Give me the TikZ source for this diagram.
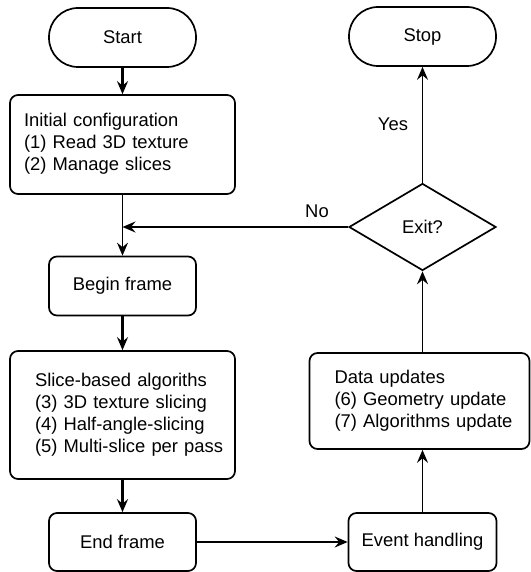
\documentclass[tikz,border=0pt]{standalone}
\usepackage{fontspec}
\setmainfont{Liberation Sans}
\usetikzlibrary{arrows.meta,shapes.geometric}
\newcommand{\padtext}[2]{\noindent\hspace*{#1}\begin{tabular}{@{}l@{}}#2\end{tabular}}
\begin{document}
\begin{tikzpicture}[x=1pt,y=-1pt,
  base/.style={draw, line width=1.7pt, font=\fontsize{18.4}{22}\selectfont, inner sep=0pt},
  term/.style={base, rounded corners=29pt, minimum width=147pt, minimum height=59pt},
  proc/.style={base, rounded corners=8pt, minimum width=147pt, minimum height=59pt},
  multi/.style={base, rounded corners=8pt, align=left},
  dec/.style={base, diamond, aspect=1.69, minimum width=147pt, minimum height=87pt},
  conn/.style={line width=1.6pt, -{Stealth[length=13pt,width=11pt,inset=4.5pt]}},
  thick conn/.style={conn, line width=2.6pt},
  lab/.style={font=\fontsize{18.4}{22}\selectfont, inner sep=0pt}
]
\useasboundingbox (0,0) rectangle (530,572);
\node[term] (start) at (122.5,37.5) {Start};
\node[term] (stop) at (422.5,36.5) {Stop};
\node[multi, text width=225pt, minimum height=99pt] (init) at (122.5,144.5)
  {\padtext{14pt}{Initial configuration\\(1) Read 3D texture\\(2) Manage slices}};
\node[proc] (begin) at (122.5,286) {Begin frame};
\node[multi, text width=225pt, minimum height=128pt] (slice) at (122.5,415)
  {\padtext{25pt}{Slice-based algoriths\\(3) 3D texture slicing\\(4) Half-angle-slicing\\(5) Multi-slice per pass}};
\node[proc, minimum height=58pt] (end) at (122.5,542) {End frame};
\node[proc, minimum width=148pt, minimum height=58pt] (event) at (422.5,542) {Event handling};
\node[multi, text width=220pt, minimum height=96pt] (data) at (419.5,401)
  {\padtext{25pt}{Data updates\\(6) Geometry update\\(7) Algorithms update}};
\node[dec] (exit) at (422.5,227) {Exit?};
\coordinate (join) at (122.5,227);

\draw[thick conn] (start) -- (init);
\draw[conn] (init) -- (begin);
\draw[conn] (exit.west) -- (join);
\draw[thick conn] (begin) -- (slice);
\draw[thick conn] (slice) -- (end);
\draw[conn] (end) -- (event);
\draw[conn] (event.north) -- (event.north |- data.south);
\draw[conn] (event.north |- data.north) -- (exit.south);
\draw[conn] (exit.north) -- (stop.south);
\node[lab] (yes) at (393,124) {Yes};
\node[lab] (no) at (317,211) {No};
\end{tikzpicture}
\end{document}
